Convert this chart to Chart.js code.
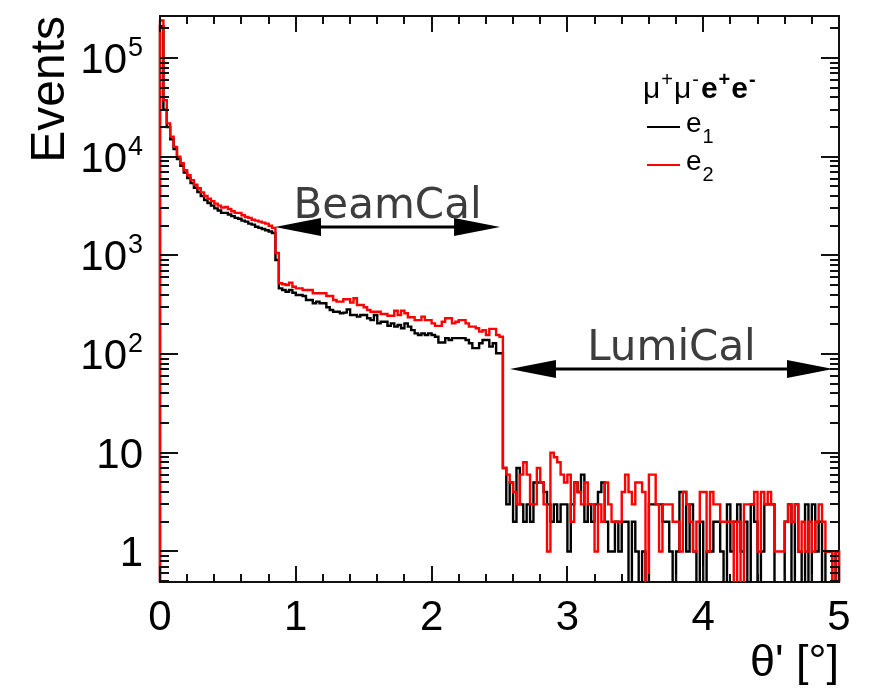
<!DOCTYPE html>
<html>
<head>
<meta charset="utf-8">
<script src="https://cdn.jsdelivr.net/npm/chart.js@4.4.1/dist/chart.umd.min.js"></script>
<style>
  html, body { margin: 0; padding: 0; background: #fff; }
  canvas { display: block; }
</style>
</head>
<body>
<canvas id="thetaChart" width="869" height="691"></canvas>
<script>
// histogram binning: 200 bins from 0 to 5 degrees
const thetaMin = 0;
const thetaMax = 5;
const nBins = 200;

// e1 (black) counts per bin
const e1Counts = [
    210000, 30000, 20000, 15000, 12000, 9500, 8100, 6900, 6100, 5400,
    4850, 4400, 4000, 3650, 3400, 3200, 3000, 2850, 2700, 2700,
    2600, 2500, 2400, 2350, 2250, 2200, 2100, 2050, 1950, 1900,
    1850, 1800, 1750, 1690, 900,
    464, 446, 429, 446, 419, 397, 397, 388, 353, 353,
    327, 340, 327, 327, 298, 280, 269, 269, 259, 263,
    284, 249, 249, 240, 249, 249, 231, 221, 249, 205,
    213, 213, 193, 205, 190, 197, 183, 205, 190, 175,
    162, 156, 162, 156, 162, 156, 150, 131, 131, 145,
    139, 145, 145, 145, 145, 139, 129, 115, 115, 129,
    139, 139, 119, 129, 102, 102,
    7, 3, 5, 2, 7, 3, 2, 3, 2, 5,
    5, 5, 4, 3, 2, 3, 2, 3, 3, 1,
    3, 5, 4, 6, 2, 3, 2, 3, 4, 5,
    2, 1, 1,
    2, 1, 2, 2, 0, 2, 1, 0, 1, 0,
    3, 3, 3, 3, 2, 2, 1, 0, 1, 4,
    4, 1, 3, 1, 0, 2, 0, 1, 1, 2,
    2, 1, 0, 3,
    1, 2, 3, 1, 2, 0, 3, 2, 0, 1,
    3, 3, 3, 0, 0, 0, 2, 3, 0, 3,
    1, 0, 3, 0, 3, 1, 2, 0, 1, 1,
    0, 1
];

// e2 (red) counts per bin
const e2Counts = [
    240000, 37500, 21800, 16000, 12600, 10000, 8600, 7300, 6500, 5800,
    5200, 4800, 4350, 4000, 3750, 3550, 3350, 3200, 3050, 3100,
    2950, 2800, 2700, 2700, 2550, 2450, 2400, 2300, 2250, 2200,
    2150, 2100, 2000, 1900, 1060,
    522, 510, 501, 530, 482, 464, 464, 446, 446, 446,
    413, 413, 413, 413, 388, 388, 353, 340, 340, 359,
    359, 332, 368, 314, 314, 298, 280, 269, 269, 269,
    255, 255, 245, 245, 275, 249, 275, 259, 236, 236,
    221, 221, 240, 221, 221, 205, 193, 193, 213, 231,
    231, 205, 213, 221, 221, 205, 190, 190, 183, 169,
    175, 156, 180, 180, 156, 150,
    7, 6, 5, 4, 3, 6, 8, 6, 3, 3,
    7, 5, 3, 1, 10, 9, 8, 6, 5, 6,
    2, 5, 4, 3, 5, 3, 3, 1, 3, 2,
    5, 3, 2,
    2, 2, 4, 6, 4, 3, 5, 5, 4, 0,
    6, 6, 3, 1, 3, 3, 3, 2, 2, 1,
    4, 3, 2, 1, 2, 4, 4, 1, 4, 3,
    3, 2, 2, 2,
    2, 0, 2, 0, 3, 3, 3, 4, 1, 4,
    3, 4, 3, 1, 1, 1, 2, 3, 2, 3,
    1, 2, 1, 2, 1, 2, 3, 2, 1, 1,
    0, 1
];

// axis ticks
const xTicks = [0, 1, 2, 3, 4, 5];
const xTickLabels = ['0', '1', '2', '3', '4', '5'];
const yTicks = [1, 10, 100, 1000, 10000, 100000];
const yTickLabels = [['1', ''], ['10', ''], ['10', '2'], ['10', '3'], ['10', '4'], ['10', '5']];

// detector acceptance ranges (theta in degrees) shown as arrows
const detectorRanges = [
    { name: 'BeamCal', from: 0.847, to: 2.504, level: 1940 },
    { name: 'LumiCal', from: 2.577, to: 4.956, level: 70.6 }
];

const FONT = '"Liberation Sans", Arial, Helvetica, sans-serif';
const floorValue = 1e-3; // empty bins are drawn down to the frame

function histPoints(counts) {
    const w = (thetaMax - thetaMin) / nBins;
    const pts = [{ x: thetaMin, y: floorValue }];
    counts.forEach(function (c, i) {
        pts.push({ x: thetaMin + i * w, y: c > 0 ? c : floorValue });
    });
    const last = counts[counts.length - 1];
    pts.push({ x: thetaMax, y: last > 0 ? last : floorValue });
    pts.push({ x: thetaMax, y: floorValue });
    return pts;
}

function drawArrowHead(ctx, tipX, y, dir) {
    const len = 46, half = 9;
    ctx.beginPath();
    ctx.moveTo(tipX, y);
    ctx.lineTo(tipX - dir * len, y - half);
    ctx.lineTo(tipX - dir * len, y + half);
    ctx.closePath();
    ctx.fill();
}

const rootFrame = {
    id: 'rootFrame',
    beforeDatasetsDraw(chart) {
        const { ctx, chartArea: a } = chart;
        ctx.save();
        ctx.strokeStyle = '#111';
        ctx.lineWidth = 2;
        ctx.strokeRect(a.left, a.top, a.right - a.left, a.bottom - a.top);
        ctx.restore();
    },
    afterDatasetsDraw(chart) {
        const { ctx, chartArea: a } = chart;
        const x = chart.scales.x, y = chart.scales.y;
        ctx.save();

        // inward ticks on all four sides
        ctx.strokeStyle = '#111';
        ctx.lineWidth = 2;
        ctx.beginPath();
        for (let k = 0; k <= 25; k++) {
            const v = k * 0.2;
            const px = Math.round(x.getPixelForValue(v));
            const len = (k % 5 === 0) ? 16 : 8;
            ctx.moveTo(px, a.bottom); ctx.lineTo(px, a.bottom - len);
            ctx.moveTo(px, a.top); ctx.lineTo(px, a.top + len);
        }
        for (let e = -1; e <= 5; e++) {
            for (let m = 1; m <= 9; m++) {
                const v = m * Math.pow(10, e);
                if (v < y.min || v > y.max) continue;
                const py = Math.round(y.getPixelForValue(v));
                const len = m === 1 ? 18 : 9;
                ctx.moveTo(a.left, py); ctx.lineTo(a.left + len, py);
                ctx.moveTo(a.right, py); ctx.lineTo(a.right - len, py);
            }
        }
        ctx.stroke();

        // tick labels
        ctx.fillStyle = '#000';
        ctx.textBaseline = 'alphabetic';
        ctx.font = '42px ' + FONT;
        ctx.textAlign = 'center';
        xTicks.forEach(function (v, i) {
            ctx.fillText(xTickLabels[i], x.getPixelForValue(v), 630);
        });
        yTicks.forEach(function (v, i) {
            const py = y.getPixelForValue(v);
            const base = yTickLabels[i][0], exp = yTickLabels[i][1];
            const right = 143;
            ctx.textAlign = 'right';
            if (exp) {
                ctx.font = '27px ' + FONT;
                const ew = ctx.measureText(exp).width;
                ctx.fillText(exp, right, py - 2);
                ctx.font = '42px ' + FONT;
                ctx.fillText(base, right - ew - 1, py + 15);
            } else {
                ctx.font = '42px ' + FONT;
                ctx.fillText(base, right, py + 15);
            }
        });

        // axis titles
        ctx.font = '45px ' + FONT;
        ctx.textAlign = 'right';
        ctx.fillText("\u03b8' [\u00b0]", a.right, 676);
        ctx.save();
        ctx.translate(64, a.top);
        ctx.rotate(-Math.PI / 2);
        ctx.font = '48px ' + FONT;
        ctx.textAlign = 'right';
        ctx.fillText('Events', 0, 0);
        ctx.restore();

        // legend
        ctx.textAlign = 'left';
        let lx = 643;
        const runs = [
            { t: '\u03bc', f: '30px ' + FONT, dy: 0, gap: 1 },
            { t: '+', f: '20px ' + FONT, dy: -12, gap: 1 },
            { t: '\u03bc', f: '30px ' + FONT, dy: 0, gap: 1 },
            { t: '-', f: '20px ' + FONT, dy: -12, gap: 2 },
            { t: 'e', f: 'bold 30px ' + FONT, dy: 0, gap: 1 },
            { t: '+', f: 'bold 20px ' + FONT, dy: -12, gap: 1 },
            { t: 'e', f: 'bold 30px ' + FONT, dy: 0, gap: 1 },
            { t: '-', f: 'bold 20px ' + FONT, dy: -12, gap: 0 }
        ];
        runs.forEach(function (r) {
            ctx.font = r.f;
            ctx.fillText(r.t, lx, 98 + r.dy);
            lx += ctx.measureText(r.t).width + r.gap;
        });
        const entries = [
            { color: '#000', sub: '1', y: 127 },
            { color: '#ff0000', sub: '2', y: 165 }
        ];
        entries.forEach(function (en) {
            ctx.strokeStyle = en.color;
            ctx.lineWidth = 2;
            ctx.beginPath();
            ctx.moveTo(647, en.y); ctx.lineTo(680, en.y);
            ctx.stroke();
            ctx.fillStyle = '#000';
            ctx.font = '28px ' + FONT;
            ctx.fillText('e', 686, en.y + 5);
            const ew = ctx.measureText('e').width;
            ctx.font = '20px ' + FONT;
            ctx.fillText(en.sub, 686 + ew + 1, en.y + 16);
        });

        // detector range arrows
        detectorRanges.forEach(function (r) {
            const x1 = x.getPixelForValue(r.from);
            const x2 = x.getPixelForValue(r.to);
            const py = y.getPixelForValue(r.level);
            ctx.strokeStyle = '#000';
            ctx.fillStyle = '#000';
            ctx.lineWidth = 3;
            ctx.beginPath();
            ctx.moveTo(x1 + 10, py); ctx.lineTo(x2 - 10, py);
            ctx.stroke();
            drawArrowHead(ctx, x1, py, -1);
            drawArrowHead(ctx, x2, py, 1);
            ctx.fillStyle = '#3d3d3d';
            ctx.font = '42px "DejaVu Sans", sans-serif';
            ctx.textAlign = 'center';
            ctx.fillText(r.name, (x1 + x2) / 2, py - 9);
        });
        ctx.restore();
    }
};

const ctx = document.getElementById('thetaChart').getContext('2d');
new Chart(ctx, {
    type: 'line',
    data: {
        datasets: [{
            label: 'e1',
            data: histPoints(e1Counts),
            borderColor: '#000000',
            borderWidth: 2.4,
            stepped: true,
            pointRadius: 0,
            fill: false,
            order: 1,
            clip: { left: 2, right: 2, top: 0, bottom: 0 }
        }, {
            label: 'e2',
            data: histPoints(e2Counts),
            borderColor: '#ff0000',
            borderWidth: 2.4,
            stepped: true,
            pointRadius: 0,
            fill: false,
            order: 0,
            clip: { left: 2, right: 2, top: 0, bottom: 0 }
        }]
    },
    options: {
        responsive: false,
        animation: false,
        devicePixelRatio: 1,
        events: [],
        layout: { padding: { left: 160, top: 16, right: 30, bottom: 109 } },
        plugins: {
            legend: { display: false },
            tooltip: { enabled: false }
        },
        scales: {
            x: { type: 'linear', min: thetaMin, max: thetaMax, display: false },
            y: { type: 'logarithmic', min: 0.49, max: 267000, display: false }
        }
    },
    plugins: [rootFrame]
});
</script>
</body>
</html>
